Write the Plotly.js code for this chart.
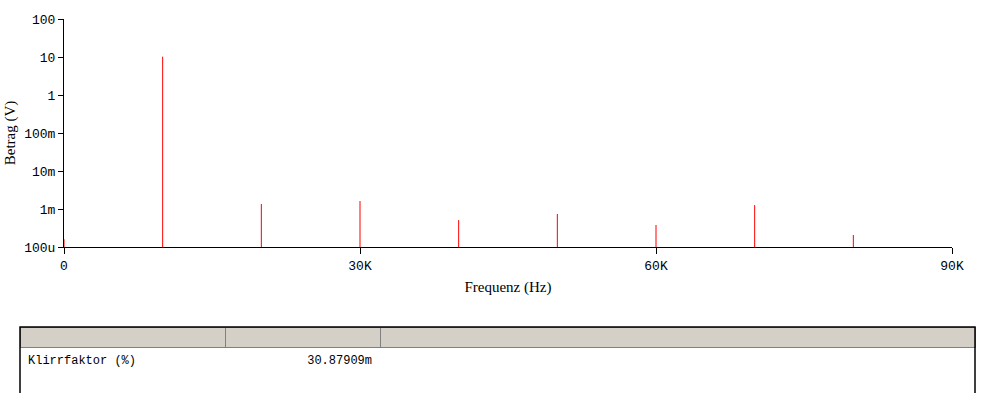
<!DOCTYPE html>
<html>
<head>
<meta charset="utf-8">
<script src="https://cdn.plot.ly/plotly-3.0.1.min.js"></script>
<style>
html,body{margin:0;padding:0;background:#fff;}
#chart{width:989px;height:393px;}
</style>
</head>
<body>
<div id="chart"></div>
<script>
// Harmonic frequencies (Hz) and magnitudes (V)
const frequencies = [0, 10000, 20000, 30000, 40000, 50000, 60000, 70000, 80000];
const magnitudes  = [1.6e-4, 10.2, 1.35e-3, 1.62e-3, 5.1e-4, 7.4e-4, 3.8e-4, 1.27e-3, 2.07e-4];
const baseline = 1e-4;

const yTickVals = [1e-4, 1e-3, 1e-2, 1e-1, 1, 10, 100];
const yTickText = ['100u', '1m', '10m', '100m', '1', '10', '100'];
const xTickVals = [0, 30000, 60000, 90000];
const xTickText = ['0', '30K', '60K', '90K'];

const tableHeader = ['', '', ''];
const tableLabels = ['Klirrfaktor (%)'];
const tableValues = ['30.87909m'];

// Build stems from the data
const sx = [], sy = [];
frequencies.forEach((f, i) => {
  sx.push(f, f, null);
  sy.push(baseline, magnitudes[i], null);
});

const W = 989, H = 393;
const mL = 20, mR = 14, mT = 19, mB = 0;
const pw = W - mL - mR, ph = H - mT - mB;
const px2x = p => (p - mL) / pw;
const py2y = p => (H - mB - p) / ph;

const mono = 'Liberation Mono, Courier New, monospace';
const serif = 'Liberation Serif, Times New Roman, serif';

const traces = [
  {
    type: 'scatter',
    mode: 'lines',
    x: sx,
    y: sy,
    line: {color: '#ff0000', width: 1},
    hoverinfo: 'skip',
    showlegend: false
  },
  {
    type: 'table',
    domain: {x: [0, 1], y: [0, py2y(327)]},
    columnwidth: [205, 155, 595],
    header: {
      values: tableHeader,
      height: 20,
      fill: {color: '#d4d0c8'},
      line: {color: '#808080', width: 1}
    },
    cells: {
      values: [tableLabels, tableValues, ['']],
      height: 20,
      align: ['left', 'right', 'left'],
      fill: {color: '#ffffff'},
      line: {color: '#ffffff', width: 1},
      font: {family: mono, size: 12, color: '#000'}
    }
  }
];

const layout = {
  width: W, height: H,
  margin: {l: mL, r: mR, t: mT, b: mB, pad: 0},
  paper_bgcolor: '#ffffff',
  plot_bgcolor: '#ffffff',
  showlegend: false,
  xaxis: {
    domain: [px2x(64), px2x(952)],
    range: [0, 90000],
    tickvals: xTickVals,
    ticktext: xTickText,
    ticks: 'outside', ticklen: 6, tickcolor: '#000', tickwidth: 1,
    showline: true, linecolor: '#000', linewidth: 1,
    showgrid: false, zeroline: false,
    layer: 'below traces',
    tickfont: {family: mono, size: 13, color: '#000'},
    title: {text: 'Frequenz (Hz)', font: {family: serif, size: 15, color: '#000'}, standoff: 8},
    anchor: 'y'
  },
  yaxis: {
    domain: [py2y(247), 1],
    type: 'log',
    range: [-4, 2],
    tickvals: yTickVals,
    ticktext: yTickText,
    ticks: 'outside', ticklen: 5, tickcolor: '#000', tickwidth: 1,
    showline: true, linecolor: '#000', linewidth: 1,
    showgrid: false, zeroline: false,
    layer: 'below traces',
    tickfont: {family: mono, size: 13, color: '#000'},
    title: {text: 'Betrag (V)', font: {family: serif, size: 15, color: '#000'}, standoff: 4},
    anchor: 'x'
  },
  shapes: [
    {type: 'rect', xref: 'paper', yref: 'paper', x0: 0, x1: 1, y0: -0.05, y1: py2y(327),
     line: {color: '#000', width: 1.5}, fillcolor: 'rgba(0,0,0,0)', layer: 'above'}
  ]
};

Plotly.newPlot('chart', traces, layout, {displayModeBar: false, staticPlot: true});
</script>
</body>
</html>
